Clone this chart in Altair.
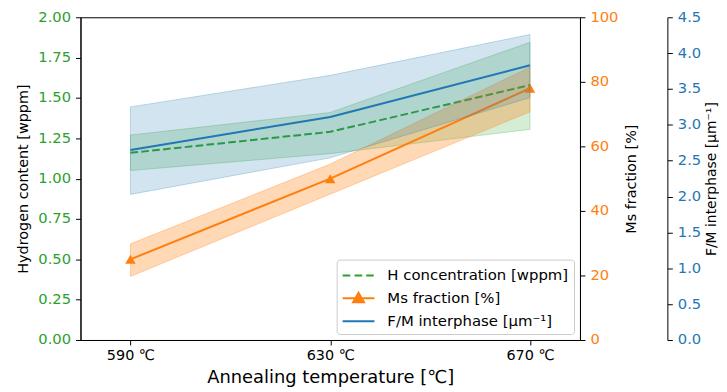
import altair as alt
import pandas as pd

# ---- data ----
temps = [590, 630, 670]
h_mean = [1.16, 1.29, 1.58]
h_low = [1.05, 1.155, 1.305]
h_high = [1.27, 1.41, 1.845]
ms_mean = [25, 50, 78]
ms_low = [19.7, 45.2, 70.7]
ms_high = [29.8, 54.5, 84.6]
fm_mean = [2.65, 3.11, 3.83]
fm_low = [2.03, 2.54, 3.38]
fm_high = [3.25, 3.69, 4.26]

series_names = ["H concentration [wppm]", "Ms fraction [%]", "F/M interphase [µm⁻¹]"]
h_ticks = [0, 0.25, 0.5, 0.75, 1.0, 1.25, 1.5, 1.75, 2.0]
ms_ticks = [0, 20, 40, 60, 80, 100]
fm_ticks = [0, 0.5, 1.0, 1.5, 2.0, 2.5, 3.0, 3.5, 4.0, 4.5]

GREEN = "#2ca02c"
ORANGE = "#ff7f0e"
BLUE = "#1f77b4"
FONT = "DejaVu Sans"

df = pd.DataFrame({
    "temp": temps,
    "h_mean": h_mean, "h_low": h_low, "h_high": h_high,
    "ms_mean": ms_mean, "ms_low": ms_low, "ms_high": ms_high,
    "fm_mean": fm_mean, "fm_low": fm_low, "fm_high": fm_high,
})
leg_df = pd.DataFrame({"name": series_names})

x_enc = alt.X(
    "temp:Q",
    scale=alt.Scale(domain=[580, 680], nice=False, zero=False),
    axis=alt.Axis(
        values=temps, labelExpr="datum.value + ' ℃'", title="Annealing temperature [℃]",
        titleFontSize=18, titleFontWeight="normal", labelFontSize=14.5, labelColor="black",
        grid=False, tickSize=5, labelPadding=4, titlePadding=6,
    ),
)

base = alt.Chart(df)


def yaxis(orient, values, fmt, color, title, offset=0, tpad=7, tsize=14.5):
    return alt.Axis(
        orient=orient, values=values, format=fmt, labelColor=color, title=title,
        titleColor="black", titleFontSize=tsize, titleFontWeight="normal", labelFontSize=14.8,
        grid=False, tickSize=5, labelPadding=5, titlePadding=tpad, offset=offset,
        titleAngle=270, titleBaseline="bottom" if orient == "left" else "top",
    )


h_scale = alt.Scale(domain=[0, 2], nice=False)
h_axis = yaxis("left", h_ticks, ".2f", GREEN, "Hydrogen content [wppm]")
h_band = base.mark_area(color=GREEN, fillOpacity=0.2, stroke=GREEN, strokeOpacity=0.25, strokeWidth=1).encode(
    x=x_enc, y=alt.Y("h_low:Q", scale=h_scale, axis=h_axis), y2="h_high:Q")
h_line = base.mark_line(color=GREEN, strokeWidth=2, strokeDash=[7.7, 3.3]).encode(
    x=x_enc, y=alt.Y("h_mean:Q", scale=h_scale, axis=h_axis))
h_layer = alt.layer(h_band, h_line)

ms_scale = alt.Scale(domain=[0, 100], nice=False)
ms_axis = yaxis("right", ms_ticks, "d", ORANGE, "Ms fraction [%]")
ms_band = base.mark_area(color=ORANGE, fillOpacity=0.3, stroke=ORANGE, strokeOpacity=0.3, strokeWidth=1).encode(
    x=x_enc, y=alt.Y("ms_low:Q", scale=ms_scale, axis=ms_axis), y2="ms_high:Q")
ms_line = base.mark_line(color=ORANGE, strokeWidth=2).encode(
    x=x_enc, y=alt.Y("ms_mean:Q", scale=ms_scale, axis=ms_axis))
ms_pts = base.mark_point(color=ORANGE, filled=True, opacity=1, shape="triangle-up", size=110).encode(
    x=x_enc, y=alt.Y("ms_mean:Q", scale=ms_scale, axis=ms_axis))
ms_layer = alt.layer(ms_band, ms_line, ms_pts)

fm_scale = alt.Scale(domain=[0, 4.5], nice=False)
fm_axis = yaxis("right", fm_ticks, ".1f", BLUE, "F/M interphase [µm⁻¹]", offset=88, tpad=4, tsize=14)
fm_band = base.mark_area(color=BLUE, fillOpacity=0.2, stroke=BLUE, strokeOpacity=0.25, strokeWidth=1).encode(
    x=x_enc, y=alt.Y("fm_low:Q", scale=fm_scale, axis=fm_axis), y2="fm_high:Q")
fm_line = base.mark_line(color=BLUE, strokeWidth=2).encode(
    x=x_enc, y=alt.Y("fm_mean:Q", scale=fm_scale, axis=fm_axis))
fm_layer = alt.layer(fm_band, fm_line)

dash_path = "M-1.6,0H-0.83M-0.4,0H0.37M0.77,0H1.53"
tri_path = "M-1.6,0H1.6M0,-0.55L0.55,0.4L-0.55,0.4Z"
line_path = "M-1.6,0H1.6"
leg_scale = alt.Scale(domain=series_names, range=[GREEN, ORANGE, BLUE])
leg_legend = alt.Legend(
    title=None, orient="bottom-right", offset=6, labelFontSize=15, labelFont=FONT,
    labelColor="black", symbolSize=400, symbolStrokeWidth=2, symbolOpacity=1,
    padding=5, symbolOffset=6, labelOffset=18, rowPadding=4, labelLimit=0,
    fillColor="rgba(255,255,255,0.85)", strokeColor="#cccccc", cornerRadius=3,
)
legend_layer = alt.Chart(leg_df).mark_point(filled=True, opacity=0).encode(
    x=alt.value(0), y=alt.value(0),
    color=alt.Color("name:N", scale=leg_scale, legend=leg_legend, sort=series_names),
    stroke=alt.Stroke("name:N", scale=leg_scale, legend=leg_legend, sort=series_names),
    shape=alt.Shape("name:N", scale=alt.Scale(domain=series_names, range=[dash_path, tri_path, line_path]),
                    legend=leg_legend, sort=series_names),
)

chart = alt.layer(h_layer, ms_layer, fm_layer, legend_layer).resolve_scale(
    y="independent"
).properties(
    width=503, height=325,
    padding={"left": 8, "top": 0, "right": 0, "bottom": 0},
).configure(
    font=FONT,
).configure_axis(
    labelFont=FONT, titleFont=FONT, domainColor="black", tickColor="black",
    domainWidth=1, tickWidth=1,
).configure_view(
    stroke="black", strokeWidth=1,
)

chart.save("out.html", embed_options={"renderer": "svg", "actions": False})
